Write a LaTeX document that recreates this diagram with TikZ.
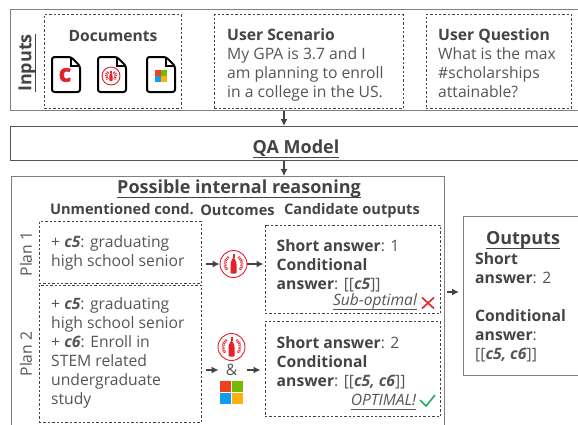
\documentclass[tikz,border=0pt]{standalone}
\usepackage{fontspec}
\setmainfont{Open Sans}
\newfontfamily\fatfont[FakeBold=2.5]{Open Sans Bold}
\usetikzlibrary{arrows.meta}
\definecolor{txtgray}{HTML}{555555}
\definecolor{headgray}{HTML}{444444}
\definecolor{linegray}{HTML}{808080}
\definecolor{colared}{HTML}{E4202C}
\definecolor{msred}{HTML}{F1401E}
\definecolor{msgreen}{HTML}{76B900}
\definecolor{msblue}{HTML}{139BEF}
\definecolor{msyellow}{HTML}{FFB00E}
\definecolor{okgreen}{HTML}{1EAD6B}
\tikzset{
  linebox/.style={draw=linegray,line width=1pt,anchor=north west,inner sep=0pt},
  dashbox/.style={draw=headgray,dash pattern=on 2.4pt off 2pt,line width=.8pt,anchor=north west,inner sep=0pt},
  txt/.style={anchor=north west,inner sep=0pt,align=left,text=txtgray,font=\fontsize{15.7}{19}\selectfont},
  plain/.style={inner sep=0pt,text=txtgray,font=\fontsize{15.7}{19}\selectfont},
  head/.style={inner sep=0pt,text=headgray,font=\fontsize{15.6}{19}\selectfont\bfseries},
  colhead/.style={inner sep=0pt,text=headgray,font=\fontsize{14.6}{19}\selectfont\bfseries},
  title/.style={inner sep=0pt,text=headgray,font=\fontsize{18}{19}\selectfont\bfseries},
  verdict/.style={inner sep=0pt,text=txtgray,font=\fontsize{15.6}{19}\selectfont\itshape},
  flow/.style={draw=headgray,line width=1.2pt,-{Latex[length=7pt,width=7pt]}},
  ringnode/.style={circle,draw=colared,line width=.9pt,minimum size=#1,inner sep=0pt},
  bottle/.pic={
    \fill[colared] (-1,-10) rectangle (1,-6);
    \fill[colared,rounded corners=1pt] (-3,9.5) -- (-3,-1) -- (-1,-6) -- (1,-6) -- (3,-1) -- (3,9.5) -- cycle;
    \draw[colared,line width=2.6pt,dash pattern=on 1pt off .9pt] (-55:8.6) arc (-55:45:8.6);
    \draw[colared,line width=2.6pt,dash pattern=on 1pt off .9pt] (235:8.6) arc (235:135:8.6);
  },
  mslogo/.pic={
    \fill[msred] (-11.5,-11.5) rectangle (-.5,-.5);
    \fill[msgreen] (.5,-11.5) rectangle (11.5,-.5);
    \fill[msblue] (-11.5,.5) rectangle (-.5,11.5);
    \fill[msyellow] (.5,.5) rectangle (11.5,11.5);
  },
  page/.pic={
    \draw[black,line width=2pt,rounded corners=2.5pt] (-14,-17.5) -- (5,-17.5) -- (14,-8.5) -- (14,17.5) -- (-14,17.5) -- cycle;
    \draw[black,line width=1.6pt] (5,-17.5) -- (5,-8.5) -- (14,-8.5);
  },
}
\newcommand{\hd}[1]{\textbf{\color{headgray}#1}}
\newcommand{\cnd}[1]{\textbf{\textit{#1}}}
\newcommand{\ul}[1]{\underline{\smash{#1}\rule[-2.5pt]{0pt}{12.5pt}}}
\begin{document}
\begin{tikzpicture}[x=1pt,y=-1pt]
\useasboundingbox (0,0) rectangle (578,424);
% top row
\node[linebox,minimum width=580pt,minimum height=101pt] (inputs) at (10,9) {};
\node[title,rotate=90] (inputslabel) at (28.5,63) {\ul{Inputs}};
\node[dashbox,minimum width=137pt,minimum height=94pt] (docs) at (44,14) {};
\node[head] (docslabel) at (113,36) {Documents};
\pic at (66,74.5) {page};
\pic at (112,74.5) {page};
\pic at (161,74.5) {page};
\node[inner sep=0pt,text=colared,font=\fontsize{24}{24}\fatfont] (cdoc) at (65,75) {c};
\node[ringnode=18pt] (coladoc) at (111,76) {};
\pic[scale=.55] at (111,76) {bottle};
\pic[scale=.55] at (161,76) {mslogo};
\node[dashbox,minimum width=189pt,minimum height=94pt] (scenario) at (214,14) {};
\node[txt] (scenariotxt) at (227,28.5) {\hd{User Scenario}\\My GPA is 3.7 and I\\am planning to enroll\\in a college in the US.};
\node[dashbox,minimum width=145.5pt,minimum height=94pt] (question) at (425.5,14) {};
\node[txt] (questiontxt) at (438,28.5) {\hd{User Question}\\What is the max\\\#scholarships\\attainable?};
% model
\node[linebox,draw=txtgray,minimum width=580pt,minimum height=34pt] (qa) at (10,126) {};
\node[title] (qalabel) at (296,151) {\ul{QA Model}};
\coordinate (mid) at (284,0);
\draw[flow] (mid |- inputs.south) -- (mid |- qa.north);
% reasoning
\node[linebox,minimum width=433pt,minimum height=260pt] (reason) at (11,176) {};
\draw[flow] (mid |- qa.south) -- (mid |- reason.north);
\node[title] (reasonlabel) at (239,190.5) {\ul{Possible internal reasoning}};
\node[colhead] (unmlabel) at (122,209.5) {Unmentioned cond.};
\node[colhead] (outlabel) at (237.5,210.5) {Outcomes};
\node[colhead] (candlabel) at (352,210.5) {Candidate outputs};
\node[plain,rotate=90] (planA) at (26,254) {Plan 1};
\node[plain,rotate=90] (planB) at (26,354) {Plan 2};
\node[dashbox,minimum width=162.5pt,minimum height=62pt] (unmA) at (38.5,221) {};
\node[txt] (unmAtxt) at (51,235.5) {+ \cnd{c5}: graduating\\high school senior};
\node[dashbox,minimum width=162.5pt,minimum height=137.5pt] (unmB) at (38.5,284.5) {};
\node[txt] (unmBtxt) at (51,297.5) {+ \cnd{c5}: graduating\\high school senior\\+ \cnd{c6}: Enroll in\\STEM related\\undergraduate\\study};
% plan 1
\node[ringnode=27pt] (colaA) at (233.5,264) {};
\pic at (233.5,264) {bottle};
\node[dashbox,minimum width=175.5pt,minimum height=88.5pt] (candA) at (264.5,224.5) {};
\node[txt] (candAtxt) at (276.5,239.5) {\hd{Short answer}: 1\\\hd{Conditional}\\\hd{answer}: [[\cnd{c5}]]};
\node[verdict] (subopt) at (375,302.5) {\ul{Sub-optimal}};
\draw[colared,line width=1.6pt] (422,297.5) -- (434,308.5) (434,297.5) -- (422,308.5);
\draw[flow,shorten <=4pt] (unmA.east |- colaA) -- (colaA.west);
\draw[flow,shorten >=1pt] (colaA.east) -- (candA.west |- colaA);
% plan 2
\node[ringnode=27pt] (colaB) at (231.5,347) {};
\pic at (231.5,347) {bottle};
\node[plain] (amp) at (231.5,370) {\&};
\pic at (231.5,392.5) {mslogo};
\node[dashbox,minimum width=175.5pt,minimum height=95pt] (candB) at (264.5,321) {};
\node[txt] (candBtxt) at (276.5,336) {\hd{Short answer}: 2\\\hd{Conditional}\\\hd{answer}: [[\cnd{c5, c6}]]};
\node[verdict] (optim) at (383.5,403) {\ul{OPTIMAL!}};
\draw[okgreen,line width=1.6pt] (420,400) -- (426,406) -- (435,395);
\draw[flow,shorten <=4pt,shorten >=7pt] (unmB.east |- amp) -- (amp.west);
\draw[flow,shorten <=10pt,shorten >=4pt] (amp.east) -- (candB.west |- amp);
% outputs
\node[linebox,minimum width=120pt,minimum height=159pt] (outs) at (463,216) {};
\node[title] (outslabel) at (523,242) {\ul{Outputs}};
\node[txt] (outstxt) at (475,252.5) {\hd{Short}\\\hd{answer}: 2\\[19pt]\hd{Conditional}\\\hd{answer}:\\{[[}\cnd{c5, c6}{]]}};
\draw[flow,shorten <=2pt,shorten >=4pt] (reason.east |- 0,292) -- (outs.west |- 0,292);
\end{tikzpicture}
\end{document}
